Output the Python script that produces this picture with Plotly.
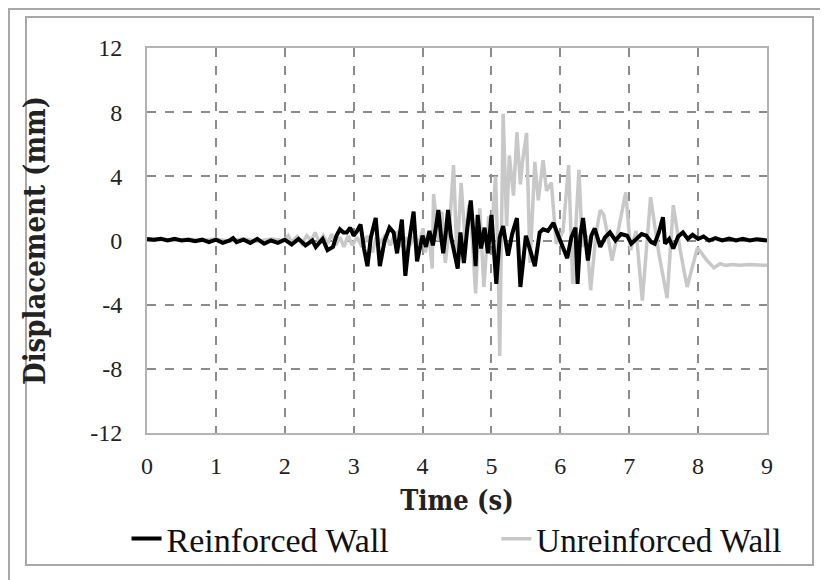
import plotly.graph_objects as go

# Reinforced wall (black)
t_reinf = [0.0,0.1,0.2,0.3,0.4,0.5,0.6,0.7,0.8,0.9,1.0,1.1,1.2,1.25,1.3,1.4,1.5,1.6,1.7,1.8,1.9,
           2.0,2.1,2.2,2.3,2.4,2.45,2.55,2.62,2.7,2.75,2.8,2.85,2.9,2.95,3.0,3.05,3.1,3.15,3.2,3.25,
           3.32,3.38,3.45,3.52,3.58,3.63,3.7,3.75,3.8,3.87,3.92,
           4.0,4.05,4.1,4.15,4.2,4.23,4.27,4.3,4.34,4.37,4.41,4.45,4.51,4.55,4.6,4.65,4.7,4.74,4.77,
           4.8,4.85,4.9,4.95,5.0,5.07,5.12,5.17,5.24,5.3,5.37,5.42,5.5,5.56,5.63,5.7,5.75,5.82,5.9,
           5.97,6.03,6.1,6.16,6.22,6.25,6.29,6.33,6.4,6.45,6.5,6.58,6.65,6.72,6.8,6.88,6.97,7.03,
           7.1,7.18,7.25,7.32,7.37,7.43,7.49,7.52,7.58,7.64,7.71,7.78,7.85,7.92,8.0,8.08,8.16,8.25,
           8.35,8.45,8.55,8.65,8.75,8.85,9.0]
d_reinf = [0.1,0.05,0.1,0.0,0.1,0.0,0.05,-0.05,0.05,-0.1,0.05,-0.15,0.0,0.15,-0.1,0.05,-0.15,0.1,-0.2,0.0,-0.15,
           0.05,-0.25,0.1,-0.3,0.0,-0.4,0.1,-0.6,-0.4,0.3,0.7,0.5,0.5,0.8,0.3,0.6,1.0,-0.5,-1.6,0.2,
           1.4,-1.6,0.0,0.8,0.5,-0.8,1.3,-2.2,-0.2,1.8,-1.3,
           0.3,-0.4,0.6,-0.3,1.0,1.9,0.2,-0.8,0.6,1.9,0.3,-0.6,-1.75,0.5,-1.4,0.8,2.5,0.4,-1.6,
           1.6,-0.5,0.8,-0.8,1.6,-2.7,0.2,0.9,-0.95,0.4,1.4,-2.9,0.3,-0.5,-1.6,0.5,0.7,0.6,1.1,
           0.3,-0.4,-1.1,0.2,0.8,-2.7,0.3,1.4,-1.25,0.3,0.75,-0.4,0.2,0.5,0.0,0.4,0.3,-0.2,
           0.1,0.4,0.3,-0.1,-0.2,0.5,1.45,-0.2,0.1,-0.5,0.25,0.5,0.1,0.35,0.1,0.25,0.0,0.15,
           0.0,0.12,0.0,0.1,0.0,0.08,0.0]

# Unreinforced wall (grey)
t_unreinf = [0.0,0.2,0.4,0.6,0.8,1.0,1.2,1.4,1.6,1.8,2.0,2.05,2.1,2.18,2.25,2.32,2.38,2.44,2.5,2.56,2.62,
             2.68,2.74,2.8,2.86,2.92,2.98,3.05,3.12,3.2,3.27,3.33,3.39,3.46,3.53,3.58,3.63,3.7,3.76,
             3.82,3.88,3.94,4.01,4.04,4.09,4.14,4.16,4.23,4.28,4.33,4.39,4.45,4.5,4.56,4.62,4.67,
             4.72,4.77,4.83,4.89,4.96,5.0,5.06,5.1,5.12,5.17,5.22,5.26,5.32,5.37,5.42,5.45,5.51,
             5.56,5.63,5.68,5.75,5.8,5.87,5.94,6.04,6.12,6.18,6.27,6.32,6.38,6.44,6.52,6.58,6.63,
             6.68,6.75,6.83,6.95,7.02,7.1,7.19,7.31,7.43,7.55,7.64,7.74,7.84,7.99,8.13,8.23,8.32,
             8.4,8.5,8.6,8.75,9.0]
d_unreinf = [0.05,0.1,0.0,0.1,0.0,0.1,-0.05,0.1,-0.05,0.1,0.0,0.3,-0.1,0.25,-0.2,0.3,0.0,0.5,-0.1,0.3,-0.2,
             0.4,-0.3,0.2,-0.4,0.3,-0.3,0.2,-0.4,0.3,-0.75,0.2,-0.1,0.35,-0.3,0.2,0.45,-0.4,0.2,
             -0.3,0.3,-0.2,0.75,-0.75,0.5,-1.75,2.9,0.0,1.8,-1.4,0.8,4.7,-1.1,3.6,-0.1,2.2,
             0.2,-3.3,2.0,-2.9,1.5,0.3,4.0,-2.0,-7.2,7.9,0.9,5.3,2.8,6.75,3.5,4.9,6.7,
             -1.4,4.9,2.5,5.0,3.1,3.6,-0.2,0.6,4.7,-2.7,4.4,-0.4,0.3,-3.1,0.5,1.9,1.6,
             0.5,-1.25,0.4,3.0,-0.6,0.6,-3.75,2.7,-0.8,-3.6,2.2,-0.6,-2.9,-0.45,-1.25,-1.7,-1.45,
             -1.55,-1.5,-1.55,-1.5,-1.55]

x_ticks = [0, 1, 2, 3, 4, 5, 6, 7, 8, 9]
y_ticks = [-12, -8, -4, 0, 4, 8, 12]
y_tick_labels = ["-12", "-8", "-4", "0", "4", "8", "12"]

fig = go.Figure()
fig.add_trace(go.Scatter(x=t_unreinf, y=d_unreinf, mode="lines", name="Unreinforced Wall",
                         line=dict(color="#c8c8c8", width=3.5), legend="legend2"))
fig.add_trace(go.Scatter(x=t_reinf, y=d_reinf, mode="lines", name="Reinforced Wall",
                         line=dict(color="#000000", width=4), legend="legend"))

grid = dict(showgrid=True, gridcolor="#8c8c8c", gridwidth=1.5, griddash="dash",
            zeroline=False, showline=True, mirror=True, linecolor="#b4b4b4", linewidth=2,
            automargin=False,
            tickfont=dict(family="Liberation Serif", size=24, color="#222"))

title_font = "DejaVu Serif Condensed, DejaVu Serif"
fig.update_xaxes(range=[0, 9], tickvals=x_ticks, ticklabelstandoff=10,
                 title=dict(text="<b>Time (s)</b>", font=dict(family=title_font, size=27, color="#222"),
                            standoff=13), **grid)
fig.update_yaxes(range=[-12, 12], tickvals=y_ticks, ticktext=y_tick_labels, ticklabelstandoff=18,
                 title=dict(text="<b>Displacement (mm)</b>", font=dict(family=title_font, size=29, color="#222"),
                            standoff=36), **grid)

legend_common = dict(orientation="h", yanchor="middle", xanchor="left", y=-0.275,
                     font=dict(family="Liberation Serif", size=34, color="#111"),
                     bgcolor="rgba(0,0,0,0)")

# page has an 8px body margin, so figure coords = screen coords - 8
fig.update_layout(
    width=828, height=580,
    margin=dict(l=139, r=69, t=40, b=155, autoexpand=False),
    paper_bgcolor="white", plot_bgcolor="white",
    showlegend=True,
    legend=dict(x=-0.033, **legend_common),
    legend2=dict(x=0.5635, font=dict(family="Liberation Serif", size=33, color="#111"),
                 **{k: v for k, v in legend_common.items() if k != "font"}),
    shapes=[
        dict(type="rect", xref="paper", yref="paper",
             x0=(9-147)/620, x1=(840-147)/620, y0=(433-600)/385, y1=(433-9)/385,
             line=dict(color="#a8a8a8", width=2), layer="below"),
        dict(type="rect", xref="paper", yref="paper",
             x0=(26-147)/620, x1=(813-147)/620, y0=(433-565)/385, y1=(433-17)/385,
             line=dict(color="#a8a8a8", width=2), layer="below"),
    ],
)

fig.write_html("out.html")
